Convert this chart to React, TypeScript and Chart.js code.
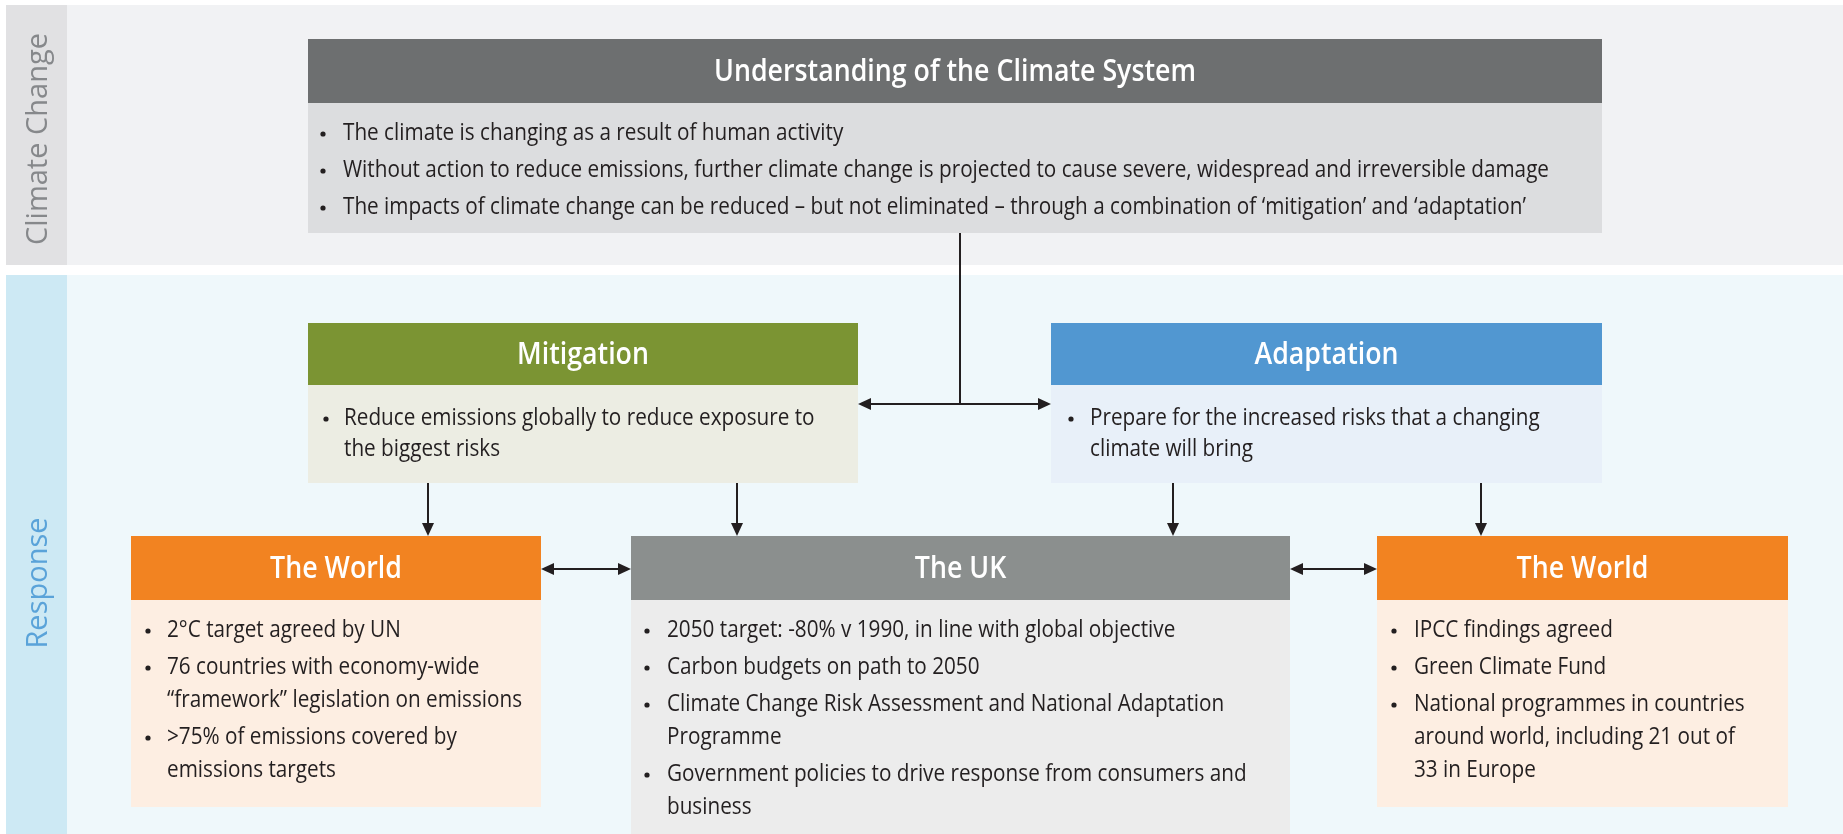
import React, { useEffect, useRef } from "react";
import { Chart, registerables } from "chart.js";
Chart.register(...registerables);

const W = 1843;
const H = 834;

// ---- text content ----
const sectionLabels = ["Climate Change", "Response"];
const boxTitles = [
  "Understanding of the Climate System",
  "Mitigation",
  "Adaptation",
  "The World",
  "The UK",
  "The World",
];
const systemBullets = [
  ["The climate is changing as a result of human activity"],
  ["Without action to reduce emissions, further climate change is projected to cause severe, widespread and irreversible damage"],
  ["The impacts of climate change can be reduced \u2013 but not eliminated \u2013 through a combination of \u2018mitigation\u2019 and \u2018adaptation\u2019"],
];
const mitigationBullets = [["Reduce emissions globally to reduce exposure to", "the biggest risks"]];
const adaptationBullets = [["Prepare for the increased risks that a changing", "climate will bring"]];
const worldLeftBullets = [
  ["2\u00B0C target agreed by UN"],
  ["76 countries with economy-wide", "\u201Cframework\u201D legislation on emissions"],
  [">75% of emissions covered by", "emissions targets"],
];
const ukBullets = [
  ["2050 target: -80% v 1990, in line with global objective"],
  ["Carbon budgets on path to 2050"],
  ["Climate Change Risk Assessment and National Adaptation", "Programme"],
  ["Government policies to drive response from consumers and", "business"],
];
const worldRightBullets = [
  ["IPCC findings agreed"],
  ["Green Climate Fund"],
  ["National programmes in countries", "around world, including 21 out of", "33 in Europe"],
];
const boxBullets = [systemBullets, mitigationBullets, adaptationBullets, worldLeftBullets, ukBullets, worldRightBullets];

// ---- layout (diagram units = pixels) ----
const bands = [
  { y0: 5, y1: 265, bg: "#f1f2f4", col: "#e1e1e3", label: "#86888b", labelY: 139 },
  { y0: 275, y1: 834, bg: "#eff8fb", col: "#cde9f4", label: "#5aa3d9", labelY: 583 },
];
const colX = [6, 67];
const boxes = [
  { x0: 308, x1: 1602, y0: 39, yh: 103, y1: 233, head: "#6d6f70", body: "#dcdddf", bx: 323, tx: 343, fy: 133, lh: 37, gap: 0 },
  { x0: 308, x1: 858, y0: 323, yh: 385, y1: 483, head: "#7b9433", body: "#ecede3", bx: 326, tx: 344, fy: 418, lh: 31, gap: 0 },
  { x0: 1051, x1: 1602, y0: 323, yh: 385, y1: 483, head: "#5197d1", body: "#e8f0f9", bx: 1071, tx: 1090, fy: 418, lh: 31, gap: 0 },
  { x0: 131, x1: 541, y0: 536, yh: 600, y1: 807, head: "#f28321", body: "#fdeee2", bx: 148, tx: 167, fy: 630, lh: 33, gap: 4 },
  { x0: 631, x1: 1290, y0: 536, yh: 600, y1: 834, head: "#8b8f8e", body: "#ececec", bx: 647, tx: 667, fy: 630, lh: 33, gap: 4 },
  { x0: 1377, x1: 1788, y0: 536, yh: 600, y1: 807, head: "#f28321", body: "#fdeee2", bx: 1394, tx: 1414, fy: 630, lh: 33, gap: 4 },
];
// connectors: [x0,y0,x1,y1, arrowAtStart, arrowAtEnd]
const connectors: [number, number, number, number, boolean, boolean][] = [
  [960, 233, 960, 404, false, false],
  [858, 404, 1051, 404, true, true],
  [428, 483, 428, 536, false, true],
  [737, 483, 737, 536, false, true],
  [1173, 483, 1173, 536, false, true],
  [1481, 483, 1481, 536, false, true],
  [541, 569, 631, 569, true, true],
  [1290, 569, 1377, 569, true, true],
];
const fit = { bodyRefWidth: 1206, titleRefWidth: 482 };
const FONT = "'Open Sans', 'Noto Sans', sans-serif";

const diagramPlugin = {
  id: "diagram",
  beforeDraw(chart: any) {
    const ctx: CanvasRenderingContext2D = chart.ctx;
    const xs = chart.scales.x;
    const ys = chart.scales.y;
    const px = (v: number) => xs.getPixelForValue(v);
    const py = (v: number) => ys.getPixelForValue(v);
    const rect = (x0: number, y0: number, x1: number, y1: number, c: string) => {
      ctx.fillStyle = c;
      ctx.fillRect(px(x0), py(y0), px(x1) - px(x0), py(y1) - py(y0));
    };
    ctx.save();
    ctx.fillStyle = "#ffffff";
    ctx.fillRect(0, 0, chart.width, chart.height);

    // bands
    bands.forEach((b, i) => {
      rect(colX[0], b.y0, W, b.y1, b.bg);
      rect(colX[0], b.y0, colX[1], b.y1, b.col);
      ctx.save();
      ctx.translate(px((colX[0] + colX[1]) / 2 + 2), py(b.labelY));
      ctx.rotate(-Math.PI / 2);
      ctx.font = `400 29px ${FONT}`;
      ctx.fillStyle = b.label;
      ctx.textAlign = "center";
      ctx.textBaseline = "middle";
      ctx.fillText(sectionLabels[i], 0, 0);
      ctx.restore();
    });

    // calibrate condensed text
    const bodyFont = `400 24px ${FONT}`;
    const titleFont = `600 31px ${FONT}`;
    ctx.font = bodyFont;
    const bodySx = fit.bodyRefWidth / ctx.measureText(systemBullets[1][0]).width;
    ctx.font = titleFont;
    const titleSx = fit.titleRefWidth / ctx.measureText(boxTitles[0]).width;

    const drawText = (t: string, x: number, y: number, font: string, sx: number, color: string, align: "left" | "center") => {
      ctx.save();
      ctx.font = font;
      ctx.fillStyle = color;
      ctx.textBaseline = "middle";
      ctx.textAlign = align;
      ctx.translate(px(x), py(y));
      ctx.scale(sx, 1);
      ctx.fillText(t, 0, 0);
      ctx.restore();
    };

    // boxes
    boxes.forEach((b, i) => {
      rect(b.x0, b.y0, b.x1, b.yh, b.head);
      rect(b.x0, b.yh, b.x1, b.y1, b.body);
      drawText(boxTitles[i], (b.x0 + b.x1) / 2, (b.y0 + b.yh) / 2 + 1, titleFont, titleSx, "#ffffff", "center");
      let y = b.fy;
      boxBullets[i].forEach((lines) => {
        ctx.fillStyle = "#231f20";
        ctx.beginPath();
        ctx.arc(px(b.bx), py(y + 1), 2.6, 0, Math.PI * 2);
        ctx.fill();
        lines.forEach((ln) => {
          drawText(ln, b.tx, y, bodyFont, bodySx, "#231f20", "left");
          y += b.lh;
        });
        y += b.gap;
      });
    });

    // connectors
    ctx.strokeStyle = "#231f20";
    ctx.fillStyle = "#231f20";
    ctx.lineWidth = 2;
    const head = (x: number, y: number, dx: number, dy: number) => {
      const len = 13, half = 6;
      const bx = x - dx * len, by = y - dy * len;
      ctx.beginPath();
      ctx.moveTo(x, y);
      ctx.lineTo(bx - dy * half, by + dx * half);
      ctx.lineTo(bx + dy * half, by - dx * half);
      ctx.closePath();
      ctx.fill();
    };
    connectors.forEach(([x0, y0, x1, y1, a0, a1]) => {
      const X0 = px(x0), Y0 = py(y0), X1 = px(x1), Y1 = py(y1);
      const L = Math.hypot(X1 - X0, Y1 - Y0);
      const dx = (X1 - X0) / L, dy = (Y1 - Y0) / L;
      ctx.beginPath();
      ctx.moveTo(X0 + (a0 ? dx * 8 : 0), Y0 + (a0 ? dy * 8 : 0));
      ctx.lineTo(X1 - (a1 ? dx * 8 : 0), Y1 - (a1 ? dy * 8 : 0));
      ctx.stroke();
      if (a1) head(X1, Y1, dx, dy);
      if (a0) head(X0, Y0, -dx, -dy);
    });
    ctx.restore();
  },
};

export default function App() {
  const ref = useRef<HTMLCanvasElement>(null);
  useEffect(() => {
    document.body.style.margin = "0";
    document.documentElement.style.overflow = "hidden";
    const chart = new Chart(ref.current!, {
      type: "scatter",
      data: { datasets: [{ data: [], pointRadius: 0 }] },
      options: {
        animation: false,
        responsive: false,
        devicePixelRatio: 1,
        layout: { padding: 0 },
        events: [],
        plugins: { legend: { display: false }, tooltip: { enabled: false }, title: { display: false } },
        scales: {
          x: { type: "linear", min: 0, max: W, display: false },
          y: { type: "linear", min: 0, max: H, reverse: true, display: false },
        },
      },
      plugins: [diagramPlugin],
    } as any);
    return () => chart.destroy();
  }, []);
  return (
    <div style={{ width: W, height: H }}>
      <canvas ref={ref} width={W} height={H} style={{ display: "block", width: W, height: H }} />
    </div>
  );
}
